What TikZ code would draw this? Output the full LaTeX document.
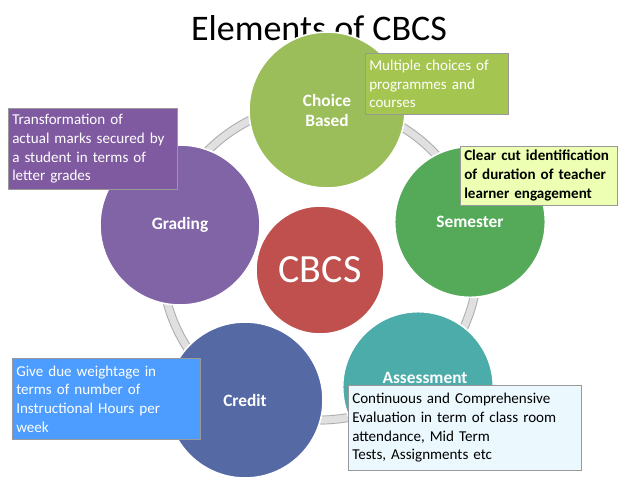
\documentclass[tikz,border=0pt]{standalone}
\usepackage{fontspec}
\setmainfont{Carlito}
\definecolor{cbc}{RGB}{155,190,90}
\definecolor{sec}{RGB}{85,170,90}
\definecolor{asc}{RGB}{75,172,170}
\definecolor{crc}{RGB}{85,105,165}
\definecolor{grc}{RGB}{128,100,165}
\definecolor{cbcsc}{RGB}{192,80,77}
\begin{document}
\begin{tikzpicture}[x=0.75pt,y=-0.75pt,
  circ/.style={circle,draw=white,line width=1.2pt,text=white,font=\bfseries\fontsize{13}{15}\selectfont,align=center},
  note/.style={draw=black!40,anchor=north west,align=left,inner sep=3pt,font=\fontsize{11.3}{14}\selectfont}]
\useasboundingbox (0,0) rectangle (638,479);
\fill[white] (0,0) rectangle (638,479);
\node (title) at (319,28) {\fontsize{27}{30}\selectfont Elements of CBCS};
\draw[black!12,line width=7pt] (320,262) circle (158);
\draw[black!35,line width=0.5pt] (320,262) circle (162);
\draw[black!35,line width=0.5pt] (320,262) circle (154);
\node[circ,fill=cbc,minimum size=117pt] (cb) at (327,110) {Choice\\Based};
\node[circ,fill=sec,minimum size=113pt] (se) at (470,222) {Semester};
\node[circ,fill=asc,minimum size=113pt] (as) at (418,387) {};
\node[text=white,font=\bfseries\fontsize{13}{15}\selectfont] (asl) at (425,378) {Assessment};
\node[circ,fill=crc,minimum size=117pt] (cr) at (245,400) {Credit};
\node[circ,fill=grc,minimum size=120pt] (gr) at (180,225) {Grading};
\node[circ,fill=cbcsc,minimum size=96pt,font=\fontsize{30}{34}\selectfont] (cbcs) at (320,270) {CBCS};
\node[note,fill=cbc!90!yellow,text=white,text width=101pt,minimum height=46pt] (n1) at (365,53) {Multiple choices of\\programmes and\\courses};
\node[note,fill=green!25!yellow!30!white,text width=112pt,minimum height=44pt,font=\fontsize{11.3}{14}\selectfont\bfseries] (n2) at (460,146) {Clear cut identification\\of duration of teacher\\learner engagement};
\node[note,fill=grc!90!violet,text=white,text width=121pt,minimum height=61pt] (n3) at (8,108) {Transformation of\\actual marks secured by\\a student in terms of\\letter grades};
\node[note,fill=blue!55!cyan!70!white,text=white,text width=135pt,minimum height=61pt] (n4) at (12,358) {Give due weightage in\\terms of number of\\Instructional Hours per\\week};
\node[note,fill=cyan!8!white,text width=169pt,minimum height=64pt] (n5) at (348,385) {Continuous and Comprehensive\\Evaluation in term of class room\\attendance, Mid Term\\Tests, Assignments etc};
\end{tikzpicture}
\end{document}
